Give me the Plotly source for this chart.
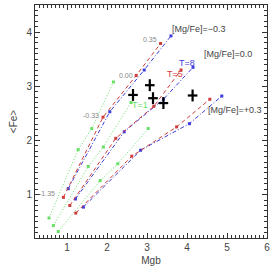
import plotly.graph_objects as go

# Model grids: Mgb and <Fe> at [Z/H] = -1.35, -0.33, 0.00, 0.35
metallicity_labels = ["-1.35", "-0.33", "0.00", "0.35"]

mgb_t5_m03 = [0.91, 1.90, 2.73, 3.34]
fe_t5_m03 = [0.95, 2.43, 3.20, 3.79]
mgb_t8_m03 = [1.03, 2.07, 2.93, 3.60]
fe_t8_m03 = [1.11, 2.53, 3.30, 3.93]
mgb_t1_m03 = [0.55, 1.28, 1.62, 2.16]
fe_t1_m03 = [0.57, 1.83, 2.22, 3.08]

mgb_t5_00 = [1.07, 2.22, 3.17, 3.85]
fe_t5_00 = [0.80, 2.04, 2.63, 3.30]
mgb_t8_00 = [1.21, 2.43, 3.41, 4.15]
fe_t8_00 = [0.92, 2.16, 2.76, 3.35]
mgb_t1_00 = [0.66, 1.53, 1.91, 2.60]
fe_t1_00 = [0.43, 1.52, 1.88, 2.70]

mgb_t5_p03 = [1.22, 2.62, 3.74, 4.57]
fe_t5_p03 = [0.66, 1.71, 2.25, 2.76]
mgb_t8_p03 = [1.41, 2.84, 4.06, 4.87]
fe_t8_p03 = [0.77, 1.82, 2.31, 2.82]
mgb_t1_p03 = [0.78, 1.83, 2.27, 3.03]
fe_t1_p03 = [0.32, 1.26, 1.57, 2.22]

obs_mgb = [2.65, 3.07, 3.15, 3.41, 4.14]
obs_fe = [2.84, 3.02, 2.78, 2.69, 2.83]
obs_mgb_err = [0.12, 0.12, 0.12, 0.12, 0.12]
obs_fe_err = [0.11, 0.11, 0.11, 0.11, 0.11]

RED = "#d03c3c"
BLUE = "#3c3cdc"
GREEN = "#66e066"

fig = go.Figure()

def add_line(x, y, color, dash):
    fig.add_trace(go.Scatter(
        x=x, y=y, mode="lines+markers",
        line=dict(color=color, width=1, dash=dash),
        marker=dict(color=color, size=3, symbol="square"),
        showlegend=False, hoverinfo="skip"))

for x, y in [(mgb_t1_m03, fe_t1_m03), (mgb_t1_00, fe_t1_00), (mgb_t1_p03, fe_t1_p03)]:
    add_line(x, y, GREEN, "1px,2px")
for x, y in [(mgb_t8_m03, fe_t8_m03), (mgb_t8_00, fe_t8_00), (mgb_t8_p03, fe_t8_p03)]:
    add_line(x, y, BLUE, "4px,2px,1px,2px")
for x, y in [(mgb_t5_m03, fe_t5_m03), (mgb_t5_00, fe_t5_00), (mgb_t5_p03, fe_t5_p03)]:
    add_line(x, y, RED, "4px,3px")

fig.add_trace(go.Scatter(
    x=obs_mgb, y=obs_fe, mode="markers",
    marker=dict(color="black", size=1),
    error_x=dict(type="data", array=obs_mgb_err, color="black", thickness=2.2, width=0),
    error_y=dict(type="data", array=obs_fe_err, color="black", thickness=2.2, width=0),
    showlegend=False, hoverinfo="skip"))

GRAY = "#888888"
TXT = "#444444"
annotations = [
    dict(x=0.76, y=1.02, text=metallicity_labels[0], xanchor="right", font=dict(size=7, color=GRAY)),
    dict(x=1.86, y=2.47, text=metallicity_labels[1], xanchor="right", font=dict(size=7, color=GRAY)),
    dict(x=2.70, y=3.19, text=metallicity_labels[2], xanchor="right", font=dict(size=7, color=GRAY)),
    dict(x=3.30, y=3.87, text=metallicity_labels[3], xanchor="right", font=dict(size=7, color=GRAY)),
    dict(x=3.58, y=4.06, text="[Mg/Fe]=−0.3", xanchor="left", font=dict(size=9, color=TXT)),
    dict(x=4.38, y=3.59, text="[Mg/Fe]=0.0", xanchor="left", font=dict(size=9, color=TXT)),
    dict(x=4.48, y=2.56, text="[Mg/Fe]=+0.3", xanchor="left", font=dict(size=9, color=TXT)),
    dict(x=3.76, y=3.43, text="T=8", xanchor="left", font=dict(size=9, color=BLUE)),
    dict(x=3.46, y=3.23, text="T=5", xanchor="left", font=dict(size=9, color=RED)),
    dict(x=2.57, y=2.66, text="T=1", xanchor="left", font=dict(size=9, color=GREEN)),
]
for a in annotations:
    a.update(xref="x", yref="y", showarrow=False, yanchor="middle")

axis_common = dict(
    showgrid=False, zeroline=False, showline=True, linecolor="#333333", linewidth=1,
    mirror="allticks", ticks="inside", ticklen=5, tickcolor="#333333",
    tickfont=dict(size=10, color=TXT), automargin=False,
)

fig.update_layout(
    width=273, height=273,
    margin=dict(l=35, r=6, t=5, b=35),
    plot_bgcolor="white", paper_bgcolor="white",
    font=dict(family="Liberation Sans, Arial, sans-serif", color=TXT),
    annotations=annotations,
    xaxis=dict(range=[0.2, 6.0], tickvals=[1, 2, 3, 4, 5, 6],
               minor=dict(dtick=0.1, ticks="inside", ticklen=3, tickcolor="#333333"),
               title=dict(text="Mgb", font=dict(size=10, color=TXT), standoff=4),
               **axis_common),
    yaxis=dict(range=[0.2, 4.5], tickvals=[1, 2, 3, 4],
               minor=dict(dtick=0.1, ticks="inside", ticklen=3, tickcolor="#333333"),
               title=dict(text="<Fe>", font=dict(size=10, color=TXT), standoff=6),
               **axis_common),
)

fig.write_html("out.html", config={"displayModeBar": False},
               post_script="document.body.style.margin='0px';document.body.style.overflow='hidden';")
